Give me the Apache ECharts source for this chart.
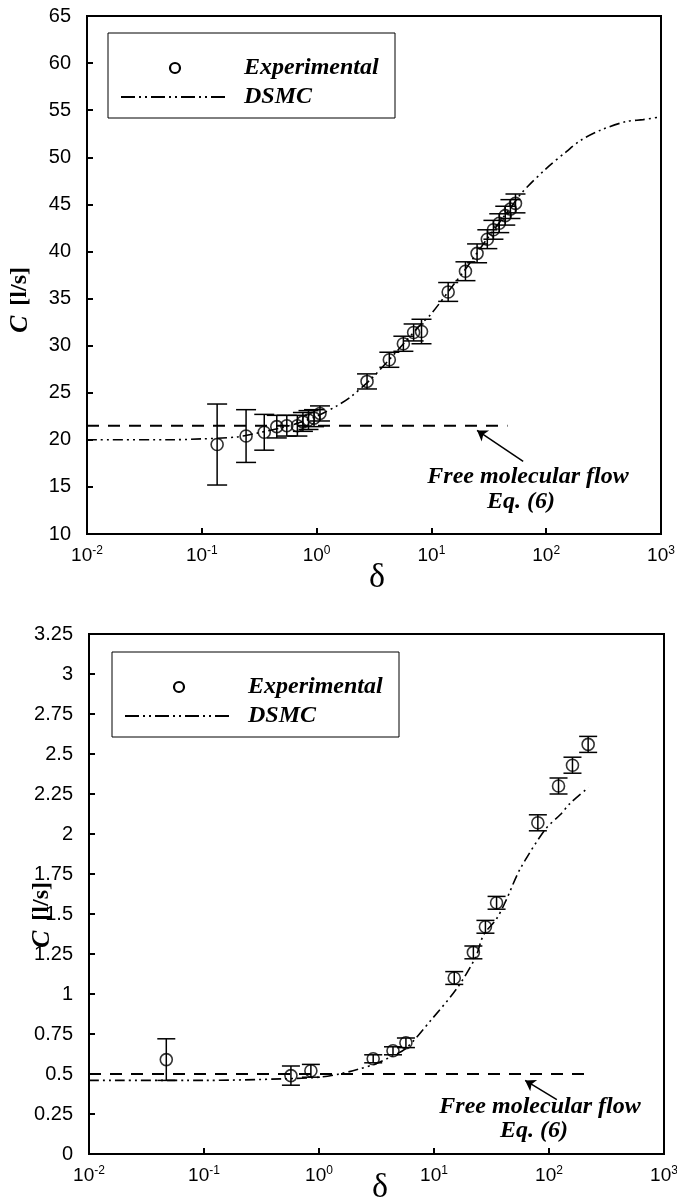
<!DOCTYPE html>
<html><head><meta charset="utf-8">
<script src="https://cdn.jsdelivr.net/npm/echarts@6.0.0/dist/echarts.min.js"></script>
<style>html,body{margin:0;padding:0;background:#fff}#c{width:677px;height:1204px}</style>
</head><body><div id="c"></div><script>
// ---------- DATA ----------
// Top panel: experimental points (delta, C [l/s], error)
const topDelta = [0.136,0.243,0.35,0.45,0.55,0.68,0.76,0.85,0.95,1.07,2.75,4.3,5.7,7.0,8.2,14,19.8,25,30.7,34.7,39,44,48.8,54];
const topC     = [19.5,20.4,20.8,21.4,21.5,21.5,21.9,22.1,22.3,22.8,26.2,28.5,30.2,31.4,31.5,35.7,37.9,39.8,41.3,42.3,43.0,43.8,44.5,45.1];
const topErr   = [4.3,2.8,1.9,1.2,1.1,1.1,1.0,1.0,0.9,0.8,0.8,0.8,0.8,0.9,1.3,1.0,1.0,1.0,1.0,1.0,1.0,1.0,1.0,1.0];
// Top panel: DSMC curve
const topDsmcDelta = [0.01,0.05,0.1,0.2,0.3,0.5,0.7,1,1.5,2,3,5,8,10,15,20,30,50,62,100,150,200,300,500,700,1000];
const topDsmcC     = [20.0,20.0,20.1,20.3,20.7,21.3,21.8,22.5,23.6,24.6,26.5,29.4,32.2,33.4,36.2,38.2,41.2,44.8,46.3,48.8,50.6,51.8,52.9,53.8,54.0,54.3];
// Top panel: free molecular flow level and its extent
const topFreeMol = 21.5;
const topFreeMolDelta = [0.01, 46];
const topArrow = [[63, 17.7], [25, 21.0]];

// Bottom panel: experimental points
const botDelta = [0.047,0.57,0.85,2.96,4.4,5.7,15,22,28,35,80,121,160,219];
const botC     = [0.59,0.49,0.52,0.595,0.645,0.695,1.10,1.26,1.42,1.57,2.07,2.30,2.43,2.56];
const botErr   = [0.13,0.06,0.04,0.025,0.025,0.03,0.04,0.04,0.04,0.04,0.05,0.05,0.05,0.05];
// Bottom panel: DSMC curve
const botDsmcDelta = [0.01,0.1,0.5,1,1.5,2.2,3,4,5.7,9.5,16,23,27,35,42,56,93,125,152,220];
const botDsmcC     = [0.46,0.46,0.47,0.48,0.50,0.53,0.56,0.60,0.66,0.84,1.04,1.23,1.37,1.47,1.58,1.78,2.03,2.12,2.19,2.29];
const botFreeMol = 0.5;
const botFreeMolDelta = [0.01, 220];
const botArrow = [[117, 0.34], [62, 0.46]];

// Axis ranges / ticks
const xMin = 0.01, xMax = 1000;
const topY = {min: 10, max: 65, interval: 5};
const botY = {min: 0, max: 3.25, interval: 0.25};

// Texts
const legendExp = 'Experimental';
const legendDsmc = 'DSMC';
const noteLine1 = 'Free molecular flow';
const noteLine2 = 'Eq. (6)';

// ---------- CHART ----------
const chart = echarts.init(document.getElementById('c'), null, {renderer: 'canvas'});
const BLACK = '#000';
const SANS = 'Liberation Sans';
const SERIF = 'Liberation Serif';
const DASHDOT = [10, 4, 2, 4, 2, 4];

function xAxisCfg(gi) {
  return {
    type: 'log', logBase: 10, min: xMin, max: xMax, gridIndex: gi,
    axisLine: {show: true, lineStyle: {color: BLACK, width: 2}},
    axisTick: {show: true, inside: true, length: 6, lineStyle: {color: BLACK, width: 2}},
    minorTick: {show: false}, splitLine: {show: false}, minorSplitLine: {show: false},
    axisLabel: {
      margin: 11, showMinLabel: true, showMaxLabel: true, hideOverlap: false,
      formatter: v => '{b|10}{s|' + Math.round(Math.log10(v)) + '}',
      rich: {
        b: {fontFamily: SANS, fontSize: 19, color: BLACK},
        s: {fontFamily: SANS, fontSize: 12, color: BLACK, padding: [0, 0, 10, 0]}
      }
    }
  };
}
function yAxisCfg(gi, r) {
  return {
    type: 'value', gridIndex: gi, min: r.min, max: r.max, interval: r.interval,
    axisLine: {show: true, lineStyle: {color: BLACK, width: 2}},
    axisTick: {show: true, inside: true, length: 6, lineStyle: {color: BLACK, width: 2}},
    splitLine: {show: false},
    axisLabel: {fontFamily: SANS, fontSize: 20, color: BLACK, margin: 16, showMinLabel: true, showMaxLabel: true}
  };
}
function errSeries(gi, dx, cy, er, cap) {
  return {
    type: 'custom', xAxisIndex: gi, yAxisIndex: gi, clip: false, z: 3,
    dimensions: ['x', 'y', 'e'], encode: {x: 0, y: 1},
    data: dx.map((d, i) => [d, cy[i], er[i]]),
    renderItem: function (params, api) {
      const x = api.value(0), y = api.value(1), e = api.value(2);
      const t = api.coord([x, y + e]), b = api.coord([x, y - e]);
      const st = {stroke: BLACK, lineWidth: 1.5};
      return {type: 'group', children: [
        {type: 'line', shape: {x1: t[0], y1: t[1], x2: b[0], y2: b[1]}, style: st},
        {type: 'line', shape: {x1: t[0] - cap, y1: t[1], x2: t[0] + cap, y2: t[1]}, style: st},
        {type: 'line', shape: {x1: b[0] - cap, y1: b[1], x2: b[0] + cap, y2: b[1]}, style: st}
      ]};
    }
  };
}
function ptSeries(gi, dx, cy, size) {
  return {
    type: 'scatter', xAxisIndex: gi, yAxisIndex: gi, z: 4,
    symbol: 'circle', symbolSize: size,
    itemStyle: {color: 'rgba(0,0,0,0)', borderColor: BLACK, borderWidth: 1.6},
    data: dx.map((d, i) => [d, cy[i]])
  };
}
function dsmcSeries(gi, dx, cy) {
  return {
    type: 'line', xAxisIndex: gi, yAxisIndex: gi, z: 2, symbol: 'none', smooth: 0.3,
    lineStyle: {color: BLACK, width: 1.6, type: DASHDOT},
    data: dx.map((d, i) => [d, cy[i]])
  };
}
function freeSeries(gi, range, level) {
  return {
    type: 'line', xAxisIndex: gi, yAxisIndex: gi, z: 2, symbol: 'none',
    lineStyle: {color: BLACK, width: 2, type: [12, 9]},
    data: range.map(d => [d, level])
  };
}
function arrowSeries(gi, pts) {
  return {
    type: 'lines', coordinateSystem: 'cartesian2d', xAxisIndex: gi, yAxisIndex: gi, z: 5,
    symbol: ['none', 'arrow'], symbolSize: 10,
    lineStyle: {color: BLACK, width: 1.5, opacity: 1},
    data: [{coords: pts}]
  };
}

function legendGraphics(x, y) {
  const txt = (t, ty) => ({type: 'text', x: x + 136, y: ty, z: 101,
    style: {text: t, fontFamily: SERIF, fontSize: 24, fontStyle: 'italic', fontWeight: 'bold', fill: BLACK, verticalAlign: 'middle'}});
  return [
    {type: 'rect', shape: {x: x, y: y, width: 287, height: 85}, style: {fill: '#fff', stroke: BLACK, lineWidth: 1}, z: 100},
    {type: 'circle', shape: {cx: x + 67, cy: y + 35, r: 5}, style: {fill: 'none', stroke: BLACK, lineWidth: 2.2}, z: 101},
    txt(legendExp, y + 35),
    {type: 'line', shape: {x1: x + 13, y1: y + 64, x2: x + 119, y2: y + 64}, style: {stroke: BLACK, lineWidth: 2, lineDash: [14, 4, 2, 4, 2, 4]}, z: 101},
    txt(legendDsmc, y + 64)
  ];
}
function yTitle(x, y) {
  return {type: 'text', x: x, y: y, rotation: Math.PI / 2, z: 100,
    style: {text: '{c|C}   {u|[l/s]}', align: 'center', verticalAlign: 'middle',
      rich: {c: {fontFamily: SERIF, fontSize: 26, fontStyle: 'italic', fontWeight: 'bold', fill: BLACK},
             u: {fontFamily: SERIF, fontSize: 24, fontWeight: 'bold', fill: BLACK}}}};
}
function noteText(t, x, y) {
  return {type: 'text', x: x, y: y, z: 100,
    style: {text: t, fontFamily: SERIF, fontSize: 24, fontStyle: 'italic', fontWeight: 'bold', fill: BLACK, align: 'center', verticalAlign: 'middle'}};
}
function deltaText(x, y) {
  return {type: 'text', x: x, y: y, z: 100,
    style: {text: 'δ', fontFamily: SERIF, fontSize: 34, fill: BLACK, align: 'center', verticalAlign: 'middle'}};
}

const option = {
  backgroundColor: '#fff',
  animation: false,
  grid: [
    {left: 87, top: 16, width: 574, height: 518, show: true, borderColor: BLACK, borderWidth: 2, backgroundColor: 'transparent', containLabel: false, outerBoundsMode: 'none'},
    {left: 89, top: 634, width: 575, height: 520, show: true, borderColor: BLACK, borderWidth: 2, backgroundColor: 'transparent', containLabel: false, outerBoundsMode: 'none'}
  ],
  xAxis: [xAxisCfg(0), xAxisCfg(1)],
  yAxis: [yAxisCfg(0, topY), yAxisCfg(1, botY)],
  series: [
    freeSeries(0, topFreeMolDelta, topFreeMol),
    dsmcSeries(0, topDsmcDelta, topDsmcC),
    errSeries(0, topDelta, topC, topErr, 10),
    ptSeries(0, topDelta, topC, 12),
    arrowSeries(0, topArrow),
    freeSeries(1, botFreeMolDelta, botFreeMol),
    dsmcSeries(1, botDsmcDelta, botDsmcC),
    errSeries(1, botDelta, botC, botErr, 9),
    ptSeries(1, botDelta, botC, 12),
    arrowSeries(1, botArrow)
  ],
  graphic: [].concat(
    legendGraphics(108, 33),
    legendGraphics(112, 652),
    [yTitle(20, 300), yTitle(42, 915),
     noteText(noteLine1, 528, 477), noteText(noteLine2, 521, 502),
     noteText(noteLine1, 540, 1107), noteText(noteLine2, 534, 1131),
     deltaText(377, 578), deltaText(380, 1188)]
  )
};
chart.setOption(option);
</script></body></html>
